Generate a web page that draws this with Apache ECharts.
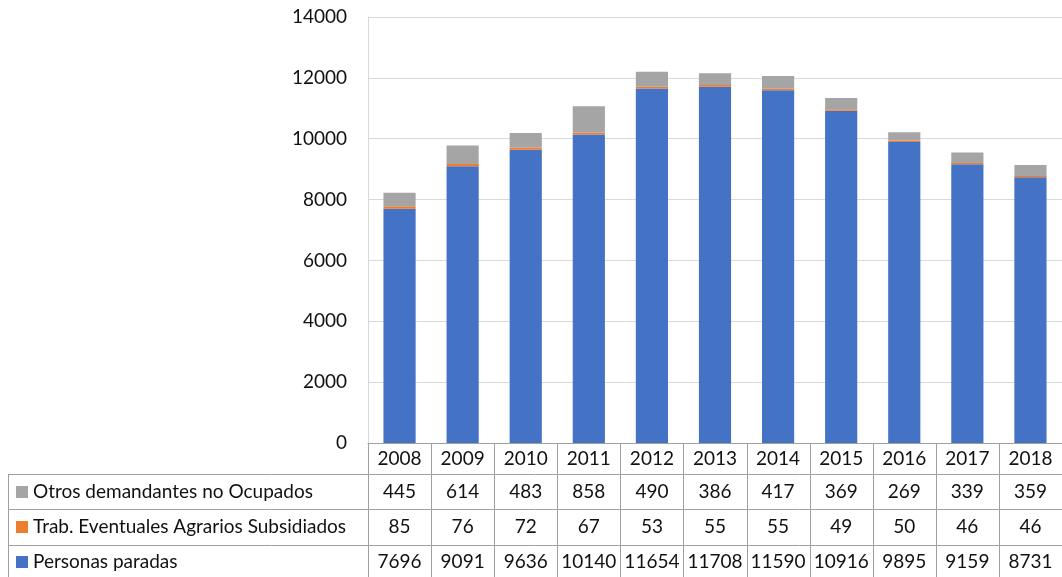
<!DOCTYPE html>
<html>
<head>
<meta charset="utf-8">
<script src="https://cdn.jsdelivr.net/npm/echarts@6/dist/echarts.min.js"></script>
<style>
html,body{margin:0;padding:0;background:#fff;}
#chart{width:1062px;height:577px;}
</style>
</head>
<body>
<div id="chart"></div>
<script>
const years = ['2008','2009','2010','2011','2012','2013','2014','2015','2016','2017','2018'];
const personasParadas = [7696,9091,9636,10140,11654,11708,11590,10916,9895,9159,8731];
const trabEventuales = [85,76,72,67,53,55,55,49,50,46,46];
const otrosDemandantes = [445,614,483,858,490,386,417,369,269,339,359];
const seriesNames = ['Personas paradas','Trab. Eventuales Agrarios Subsidiados','Otros demandantes no Ocupados'];
const seriesColors = ['#4472C4','#ED7D31','#A5A5A5'];
const yMax = 14000, yInterval = 2000;

const FONT = 'Lato';
const FS = 19;
const TXT = '#111';
const BORDER = '#A0A0A0';

const chart = echarts.init(document.getElementById('chart'), null, {renderer:'canvas'});
const seriesData = [personasParadas, trabEventuales, otrosDemandantes];

const option = {
  animation:false,
  textStyle:{fontFamily:FONT},
  grid:{left:368, top:17, width:700, height:426, containLabel:false},
  xAxis:{
    type:'category', data:years,
    axisLine:{show:true, lineStyle:{color:BORDER, width:1}},
    axisTick:{show:false},
    axisLabel:{color:TXT, fontSize:FS, fontFamily:FONT, margin:6}
  },
  yAxis:{
    type:'value', min:0, max:yMax, interval:yInterval,
    axisLine:{show:true, lineStyle:{color:'#D9D9D9'}},
    axisTick:{show:false},
    splitLine:{lineStyle:{color:'#D9D9D9', width:1}},
    axisLabel:{color:TXT, fontSize:FS, fontFamily:FONT, margin:21, formatter:v=>String(v)}
  },
  series: seriesNames.map((n,i)=>({
    name:n, type:'bar', stack:'total', data:seriesData[i],
    barWidth:'51%', itemStyle:{color:seriesColors[i]}
  }))
};
chart.setOption(option);

// Build the data table
const rowsTable = [
  {name:seriesNames[2], color:seriesColors[2], values:otrosDemandantes},
  {name:seriesNames[1], color:seriesColors[1], values:trabEventuales},
  {name:seriesNames[0], color:seriesColors[0], values:personasParadas}
];
const c0 = chart.convertToPixel({xAxisIndex:0}, 0);
const c1 = chart.convertToPixel({xAxisIndex:0}, 1);
const band = c1 - c0;
const axisY = Math.round(chart.convertToPixel({yAxisIndex:0}, 0));
const headerBottom = axisY + 31;
const rowH = 35.3;
const tableLeft = 8;
const tableRight = 1070;
const tableBottom = 600;
const g = [];
const px = v => Math.round(v) + 0.5;
const ls = {stroke:BORDER, lineWidth:1};
for (let r = 0; r < 3; r++) {
  const y = px(headerBottom + r*rowH);
  g.push({type:'line', shape:{x1:tableLeft, y1:y, x2:tableRight, y2:y}, style:ls, silent:true});
}
g.push({type:'line', shape:{x1:px(tableLeft), y1:px(headerBottom), x2:px(tableLeft), y2:tableBottom}, style:ls, silent:true});
for (let i = 0; i <= years.length; i++) {
  const x = px(c0 - band/2 + i*band);
  g.push({type:'line', shape:{x1:x, y1:axisY, x2:x, y2:tableBottom}, style:ls, silent:true});
}
rowsTable.forEach((row, r) => {
  const cy = headerBottom + r*rowH + rowH/2;
  g.push({type:'rect', shape:{x:16, y:Math.round(cy-6), width:12, height:12}, style:{fill:row.color}, silent:true});
  g.push({type:'text', x:33, y:cy, style:{text:row.name, fill:TXT, font:FS + 'px ' + FONT, textVerticalAlign:'middle', textAlign:'left'}, silent:true});
  row.values.forEach((v, i) => {
    const cx = chart.convertToPixel({xAxisIndex:0}, i);
    g.push({type:'text', x:cx, y:cy, style:{text:String(v), fill:TXT, font:FS + 'px ' + FONT, textVerticalAlign:'middle', textAlign:'center'}, silent:true});
  });
});
chart.setOption({graphic:{elements:g}});
</script>
</body>
</html>
